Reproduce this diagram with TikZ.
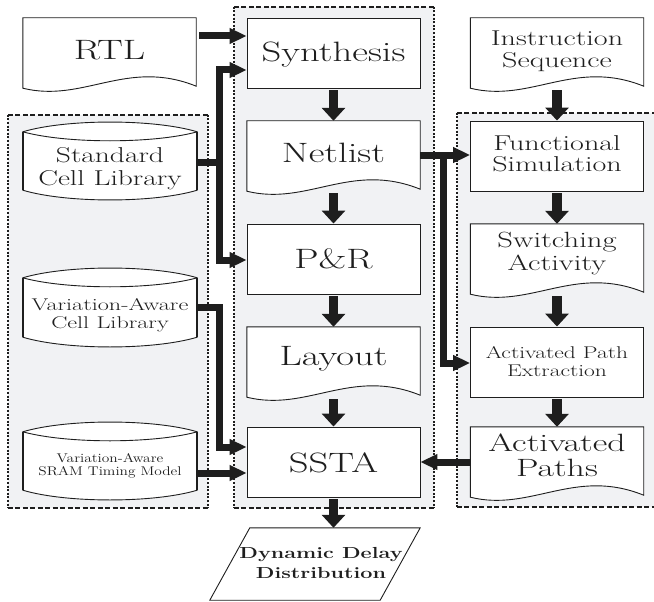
\documentclass[tikz,border=0pt]{standalone}
\usepackage{graphicx}
\usetikzlibrary{arrows.meta,calc,backgrounds}
\definecolor{panel}{RGB}{241,242,244}
\definecolor{ink}{RGB}{30,30,30}
% wide label: horizontal stretch, size, baselineskip, lines
\newcommand\wtxt[4]{\scalebox{#1}[1]{\fontsize{#2}{#3}\selectfont\begin{tabular}{@{}c@{}}#4\end{tabular}}}
\tikzset{
  htip/.tip={Triangle[length=17pt,width=15pt]},
  vtip/.tip={Triangle[length=13pt,width=23pt]},
}
\begin{document}
\begin{tikzpicture}[x=1pt,y=-1pt,
  shapeline/.style={draw=ink, line width=0.9pt, fill=white},
  rectbox/.style={rectangle, draw=ink, line width=0.9pt, fill=white, minimum width=173pt, minimum height=70pt, inner sep=0pt},
  docbox/.style={rectangle, minimum width=173pt, minimum height=70pt, inner sep=0pt},
  cylbox/.style={rectangle, minimum width=174pt, minimum height=78pt, inner sep=0pt},
  panelbox/.style={rectangle, fill=panel, inner sep=0pt},
  lbl/.style={inner sep=0pt, text=ink},
  vflow/.style={draw=ink, line width=9.5pt, -vtip},
  hflow/.style={draw=ink, line width=7pt, -htip},
  busline/.style={draw=ink, line width=7pt},
  hdash/.style={draw=ink, line width=2pt, dash pattern=on 5pt off 2.5pt},
  vdash/.style={draw=ink, line width=2pt, dash pattern=on 2pt off 1.6pt},
]
\useasboundingbox (0,0) rectangle (654,602);

% ---- boxes ----
\node[docbox] (rtl) at (109.5,53) {};
\node[rectbox] (synth) at (333.5,53) {};
\node[docbox] (netlist) at (333.5,156) {};
\node[rectbox] (pr) at (333.5,259) {};
\node[docbox] (layout) at (333.5,362) {};
\node[rectbox] (ssta) at (333.5,462) {};
\node[docbox, minimum width=130pt, minimum height=72pt] (dyn) at (315,564) {};
\node[cylbox] (stdlib) at (110,161) {};
\node[cylbox, minimum height=79pt] (vcell) at (110,307.5) {};
\node[cylbox] (sram) at (110,461) {};
\node[docbox] (instr) at (557,53) {};
\node[rectbox] (func) at (557,156) {};
\node[docbox] (swact) at (557,259) {};
\node[rectbox] (ape) at (557,362) {};
\node[docbox] (apaths) at (557,462) {};

\begin{pgfonlayer}{background}
  % grouping panels
  \node[panelbox, minimum width=200pt, minimum height=393pt] (libpanel) at (108,311.5) {};
  \node[panelbox, minimum width=200pt, minimum height=501pt] (flowpanel) at (334,257.5) {};
  \node[panelbox, minimum width=207pt, minimum height=394pt] (simpanel) at (560.5,310) {};
  \foreach \p in {libpanel,flowpanel,simpanel} {
    \draw[hdash] (\p.north west) -- (\p.north east);
    \draw[hdash] (\p.south west) -- (\p.south east);
    \draw[vdash] (\p.north west) -- (\p.south west);
    \draw[vdash] (\p.north east) -- (\p.south east);
  }
  % document shapes with wavy bottom
  \foreach \n in {rtl,netlist,layout,instr,swact,apaths} {
    \draw[shapeline] (\n.south west) -- (\n.north west) -- (\n.north east) -- ([yshift=2pt]\n.south east)
      .. controls ($(\n.south west)!0.6!(\n.south east)+(0pt,30pt)$) and ($(\n.south west)!0.35!(\n.south east)+(0pt,-15pt)$)
      .. (\n.south west) -- cycle;
  }
  % cylinders (cell libraries)
  \foreach \n in {stdlib,vcell,sram} {
    \draw[shapeline] ([yshift=-10pt]\n.north west)
      .. controls ($(\n.north west)!0.25!(\n.north east)+(0pt,3pt)$) and ($(\n.north west)!0.75!(\n.north east)+(0pt,3pt)$)
      .. ([yshift=-10pt]\n.north east) -- ([yshift=10pt]\n.south east)
      .. controls ($(\n.south west)!0.75!(\n.south east)+(0pt,-3pt)$) and ($(\n.south west)!0.25!(\n.south east)+(0pt,-3pt)$)
      .. ([yshift=10pt]\n.south west) -- cycle;
    \draw[draw=ink, line width=0.9pt] ([yshift=-10pt]\n.north west)
      .. controls ($(\n.north west)!0.25!(\n.north east)+(0pt,-22pt)$) and ($(\n.north west)!0.75!(\n.north east)+(0pt,-22pt)$)
      .. ([yshift=-10pt]\n.north east);
    \draw[draw=ink, line width=2pt] ([yshift=-10pt]\n.north west) -- ([yshift=10pt]\n.south west);
    \draw[draw=ink, line width=2pt] ([yshift=-10pt]\n.north east) -- ([yshift=10pt]\n.south east);
  }
  % output parallelogram
  \draw[shapeline] ([xshift=-40pt]dyn.south west) -- (dyn.north west) -- ([xshift=40pt]dyn.north east) -- (dyn.south east) -- cycle;
\end{pgfonlayer}

% ---- labels ----
\node[lbl] at ($(rtl)+(0,1)$) {\wtxt{1.38}{28}{30}{RTL}};
\node[lbl] at ($(synth)+(0,3)$) {\wtxt{1.38}{28}{30}{Synthesis}};
\node[lbl] at (netlist) {\wtxt{1.38}{28}{30}{Netlist}};
\node[lbl] at ($(pr)+(0,3)$) {\wtxt{1.38}{28}{30}{P\&R}};
\node[lbl] at ($(layout)+(0,-3)$) {\wtxt{1.38}{28}{30}{Layout}};
\node[lbl] at ($(ssta)+(0,4)$) {\wtxt{1.38}{28}{30}{SSTA}};
\node[lbl] at ($(stdlib)+(0,8)$) {\wtxt{1.37}{21.5}{23}{Standard\\Cell Library}};
\node[lbl] at ($(vcell)+(0,8)$) {\wtxt{1.42}{17}{18}{Variation-Aware\\Cell Library}};
\node[lbl] at ($(sram)+(0,5.5)$) {\wtxt{1.22}{12.6}{12.6}{Variation-Aware\\SRAM Timing Model}};
\node[lbl] at ($(instr)+(0,-0.7)$) {\wtxt{1.40}{21.5}{22}{Instruction\\Sequence}};
\node[lbl] at ($(func)+(0,1)$) {\wtxt{1.40}{21.5}{21}{Functional\\Simulation}};
\node[lbl] at ($(swact)+(0,-4.4)$) {\wtxt{1.39}{22}{22}{Switching\\Activity}};
\node[lbl] at ($(ape)+(0,1.4)$) {\wtxt{1.38}{17}{18}{Activated Path\\Extraction}};
\node[lbl] at ($(apaths)+(0,-3)$) {\wtxt{1.43}{25}{24.5}{Activated\\Paths}};
\node[lbl] at ($(dyn)+(6,0)$) {\wtxt{1.35}{16}{20}{\bfseries Dynamic Delay\\\bfseries Distribution}};

% ---- connectors ----
\draw[hflow, shorten <=3pt] (rtl.east |- 0,36) -- (synth.west |- 0,36);
\draw[vflow, shorten <=2pt] (synth.south) -- (netlist.north);
\draw[vflow, shorten <=2pt] (netlist.south) -- (pr.north);
\draw[vflow, shorten <=2pt] (pr.south) -- (layout.north);
\draw[vflow, shorten <=2pt] (layout.south) -- (ssta.north);
\draw[vflow, shorten <=2pt] (ssta.south) -- (ssta.south |- dyn.north);
\draw[vflow, shorten <=2pt] (instr.south) -- (func.north);
\draw[vflow, shorten <=2pt] (func.south) -- (swact.north);
\draw[vflow, shorten <=2pt] (swact.south) -- (ape.north);
\draw[vflow, shorten <=2pt] (ape.south) -- (apaths.north);

\coordinate (busL) at (219.5,162);
\draw[busline] (stdlib.east |- busL) -- (busL);
\draw[busline, htip-htip] (synth.west |- 0,70) -| (busL) |- (pr.west |- 0,260);
\draw[busline, -htip] (vcell.east |- 0,307) -| (busL |- 0,447) -- (ssta.west |- 0,447);
\draw[hflow] (sram.east |- 0,473) -- (ssta.west |- 0,473);

\coordinate (busR) at (443,155);
\draw[hflow] (netlist.east |- busR) -- (func.west |- busR);
\draw[busline, -htip] (busR) |- (ape.west |- 0,363);
\draw[hflow] (apaths.west |- 0,462) -- (ssta.east |- 0,462);
\end{tikzpicture}
\end{document}
